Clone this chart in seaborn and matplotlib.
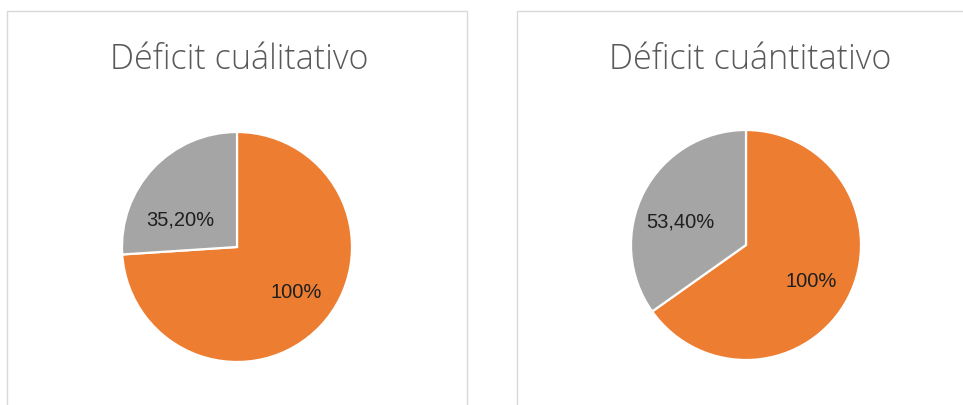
import numpy as np
import matplotlib.pyplot as plt
import seaborn as sns
from matplotlib.patches import Rectangle

# dati
titles = ["Déficit cuálitativo", "Déficit cuántitativo"]
values_left = [100, 35.2]
values_right = [100, 53.4]
labels_left = ["100%", "35,20%"]
labels_right = ["100%", "53,40%"]
colors = ["#ED7D31", "#A5A5A5"]

sns.set_theme(style="white")
plt.rcParams['font.family'] = ['Liberation Sans', 'DejaVu Sans']

W, H = 963, 406
fig = plt.figure(figsize=(W / 100, H / 100), dpi=100)

# cornici dei pannelli (px: x0, y0 top, width)
panels = [(7, 12, 460), (517, 12, 470)]
for x0, y0, w in panels:
    fig.patches.append(Rectangle((x0 / W, -0.05), w / W, (H - y0) / H + 0.05,
                                 transform=fig.transFigure, fill=False,
                                 edgecolor="#D9D9D9", linewidth=1.0))

# posizione etichette stile Excel: (raggio, angolo in gradi) per ogni fetta
label_polar = [
    [(0.64, -37), (0.55, 154)],
    [(0.65, -28.6), (0.61, 160)],
]

pies = [
    (values_left, labels_left, 237, 248, titles[0], 239),
    (values_right, labels_right, 746, 246, titles[1], 750),
]
R = 115
for i, (vals, labs, cx, cy, title, tx) in enumerate(pies):
    ax = fig.add_axes([(cx - R) / W, (H - cy - R) / H, 2 * R / W, 2 * R / H])
    wedges, texts = ax.pie(vals, labels=labs, colors=colors, startangle=90,
                           counterclock=False, labeldistance=0.6,
                           wedgeprops=dict(edgecolor="white", linewidth=1.6),
                           textprops=dict(fontsize=14.5, color="#1F1F1F"))
    for t, (r, a) in zip(texts, label_polar[i]):
        t.set_position((r * np.cos(np.radians(a)), r * np.sin(np.radians(a))))
        t.set_horizontalalignment("center")
        t.set_verticalalignment("center")
    ax.set_xlim(-1.0, 1.0)
    ax.set_ylim(-1.0, 1.0)
    ax.set_aspect("equal")
    ax.axis("off")
    fig.text(tx / W, 1 - 60 / H, title, ha="center", va="center",
             fontsize=24.5, color="#595959",
             family=["Open Sans", "DejaVu Sans"], fontweight="light")

fig.savefig("out.png", dpi=100)
